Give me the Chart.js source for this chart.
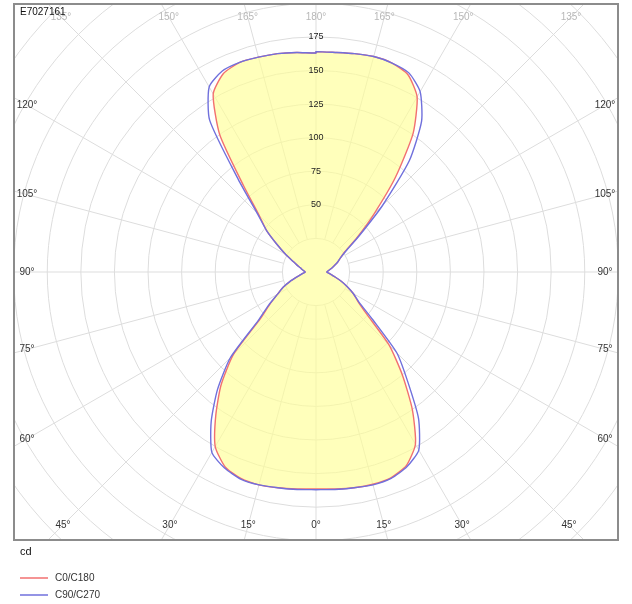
<!DOCTYPE html>
<html>
<head>
<meta charset="utf-8">
<script src="https://cdn.jsdelivr.net/npm/chart.js@4"></script>
<style>
  html, body { margin: 0; padding: 0; background: #fff; }
</style>
</head>
<body>
<canvas id="polarChart" width="632" height="604"></canvas>
<script>
const chartTitle = "E7027161";
const unitLabel = "cd";

// gamma angles, 0 = straight down, 180 = straight up
const gammaAngles = [0, 5, 10, 15, 20, 25, 30, 35, 40, 45, 50, 55, 60, 65, 70, 75, 80, 85, 90,
  95, 100, 105, 110, 115, 120, 125, 130, 135, 140, 145, 150, 155, 160, 165, 170, 175, 180];

// intensities in cd, right half and left half of each plane pair
const c0 = [161.5, 162, 163, 163.5, 163, 159, 148, 125, 100, 77, 50, 38, 32, 25.5, 20, 15, 11.5, 9.5, 8,
  9, 10.5, 12.5, 15, 18, 21, 26, 40, 61, 92, 126, 150.5, 162, 165.5, 166, 165, 164, 164];
const c180 = [161.5, 162, 163, 164, 163.5, 160, 150, 130, 110, 87, 54, 42, 33, 27, 20.5, 15, 11.5, 9.5, 8,
  9, 10.5, 12, 15, 19, 26, 35, 48, 60, 84, 125, 153, 163, 166, 165.5, 165, 164, 163];
const c90 = [162, 162.5, 163, 164, 163.5, 160, 153, 133, 106, 85, 55, 39, 32, 25.5, 20, 15, 11.5, 9.5, 8,
  9, 10.5, 12.5, 15, 18, 21, 27, 42, 70, 108, 137, 155, 163.5, 165.5, 166, 165, 164, 164];
const c270 = [162, 162.5, 163, 164, 164, 161, 155, 136, 114, 90, 56, 43, 33, 27, 20.5, 15, 11.5, 9.5, 8,
  9, 10.5, 12, 15, 19, 26, 35, 48, 62, 90, 138, 159, 165, 166, 165.5, 165, 164, 163];

const ringValues = [25, 50, 75, 100, 125, 150, 175, 200, 225, 250, 275, 300];
const ringLabels = [50, 75, 100, 125, 150, 175];
const angleLabels = [0, 15, 30, 45, 60, 75, 90, 105, 120, 135, 150, 165, 180];

const seriesNames = ["C0/C180", "C90/C270"];
const lineColors = ["#f27070", "#7070dc"];

const FONT = '"Liberation Sans", Arial, sans-serif';

// polar -> x/y in cd, right half going up, then left half coming back down
function toPoints(right, left) {
  const pts = [];
  gammaAngles.forEach((g, i) => {
    const rad = g * Math.PI / 180;
    pts.push({ x: right[i] * Math.sin(rad), y: -right[i] * Math.cos(rad) });
  });
  for (let i = gammaAngles.length - 1; i >= 0; i--) {
    const rad = gammaAngles[i] * Math.PI / 180;
    pts.push({ x: -left[i] * Math.sin(rad), y: -left[i] * Math.cos(rad) });
  }
  return pts;
}

const polarGrid = {
  id: "polarGrid",
  beforeDatasetsDraw(chart) {
    const { ctx, chartArea: a, scales: { x, y } } = chart;
    const cx = x.getPixelForValue(0);
    const cy = y.getPixelForValue(0);
    const rad = (v) => x.getPixelForValue(v) - cx;
    ctx.save();
    ctx.beginPath();
    ctx.rect(a.left, a.top, a.width, a.height);
    ctx.clip();
    ctx.strokeStyle = "#dddddd";
    ctx.lineWidth = 1;
    ringValues.forEach((v) => {
      ctx.beginPath();
      ctx.arc(cx, cy, rad(v), 0, Math.PI * 2);
      ctx.stroke();
    });
    const r0 = rad(ringValues[0]);
    const r1 = rad(ringValues[ringValues.length - 1]) + 60;
    for (let g = 0; g < 360; g += 15) {
      const s = Math.sin(g * Math.PI / 180);
      const c = Math.cos(g * Math.PI / 180);
      ctx.beginPath();
      ctx.moveTo(cx + r0 * s, cy + r0 * c);
      ctx.lineTo(cx + r1 * s, cy + r1 * c);
      ctx.stroke();
    }
    ctx.restore();
  },
  afterDraw(chart) {
    const { ctx, chartArea: a, scales: { x, y } } = chart;
    const cx = x.getPixelForValue(0);
    const cy = y.getPixelForValue(0);
    ctx.save();

    // frame
    ctx.strokeStyle = "#8c8c8c";
    ctx.lineWidth = 2;
    ctx.strokeRect(a.left - 1, a.top - 1, a.width + 2, a.height + 2);

    // ring values up the vertical
    ctx.font = "9px " + FONT;
    ctx.fillStyle = "#222";
    ctx.textAlign = "center";
    ctx.textBaseline = "middle";
    ringLabels.forEach((v) => {
      ctx.fillText(String(v), cx, y.getPixelForValue(v));
    });

    // angle labels where each spoke meets the inner label box
    const box = { left: a.left + 12, right: a.right - 12, top: a.top + 12, bottom: a.bottom - 14 };
    ctx.font = "10px " + FONT;
    angleLabels.forEach((g) => {
      const sides = (g === 0 || g === 180) ? [1] : [-1, 1];
      sides.forEach((side) => {
        const dx = side * Math.sin(g * Math.PI / 180);
        const dy = Math.cos(g * Math.PI / 180);
        let tx = Infinity, ty = Infinity;
        if (Math.abs(dx) > 1e-6) tx = dx > 0 ? (box.right - cx) / dx : (box.left - cx) / dx;
        if (Math.abs(dy) > 1e-6) ty = dy > 0 ? (box.bottom - cy) / dy : (box.top - cy) / dy;
        const t = Math.min(tx, ty);
        const onTop = ty <= tx && dy < 0;
        ctx.fillStyle = onTop ? "#b8b8b8" : "#333";
        ctx.fillText(g + "°", cx + t * dx, cy + t * dy);
      });
    });

    // title
    ctx.font = "10px " + FONT;
    ctx.fillStyle = "#111";
    ctx.textAlign = "left";
    ctx.fillText(chartTitle, a.left + 5, a.top + 7);

    // unit
    ctx.font = "11px " + FONT;
    ctx.fillText(unitLabel, a.left + 5, a.bottom + 13);

    // legend
    ctx.font = "10px " + FONT;
    chart.data.datasets.forEach((ds, i) => {
      const ly = a.bottom + 39 + i * 17;
      ctx.strokeStyle = ds.borderColor;
      ctx.lineWidth = 1.5;
      ctx.beginPath();
      ctx.moveTo(a.left + 5, ly);
      ctx.lineTo(a.left + 33, ly);
      ctx.stroke();
      ctx.fillStyle = "#333";
      ctx.fillText(ds.label, a.left + 40, ly);
    });
    ctx.restore();
  }
};

new Chart(document.getElementById("polarChart"), {
  type: "scatter",
  data: {
    datasets: [
      {
        label: seriesNames[0],
        data: toPoints(c0, c180),
        showLine: true,
        borderColor: lineColors[0],
        backgroundColor: "rgba(255, 255, 150, 0.65)",
        fill: "shape",
        borderWidth: 1.4,
        pointRadius: 0,
        tension: 0.2,
        order: 1
      },
      {
        label: seriesNames[1],
        data: toPoints(c90, c270),
        showLine: true,
        borderColor: lineColors[1],
        fill: false,
        borderWidth: 1.4,
        pointRadius: 0,
        tension: 0.2,
        order: 0
      }
    ]
  },
  options: {
    responsive: false,
    animation: false,
    layout: { padding: { left: 15, right: 15, top: 5, bottom: 65 } },
    scales: {
      x: { type: "linear", min: -224, max: 224, display: false },
      y: { type: "linear", min: -198.7, max: 198.7, display: false }
    },
    plugins: {
      legend: { display: false },
      tooltip: { enabled: false }
    }
  },
  plugins: [polarGrid]
});
</script>
</body>
</html>
